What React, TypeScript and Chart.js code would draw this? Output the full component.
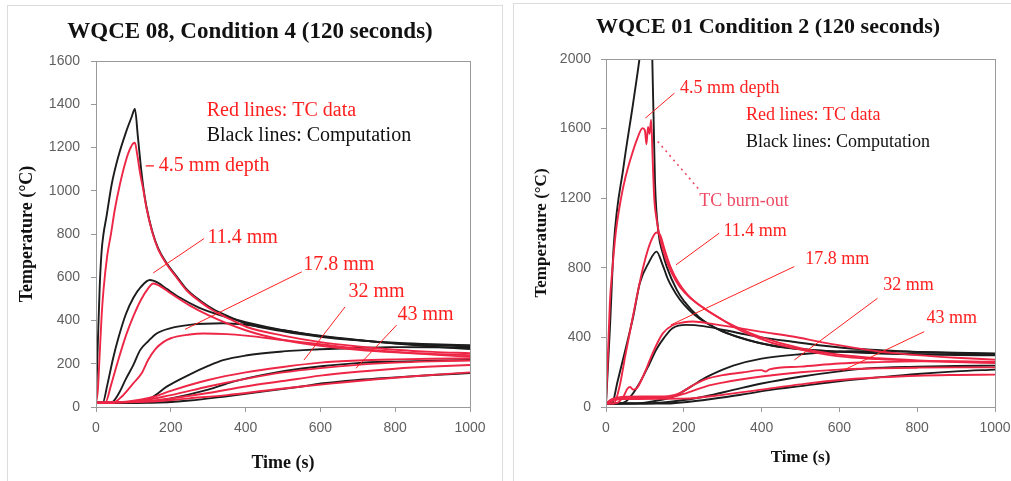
import React, { useEffect, useRef } from "react";
import { Chart, registerables } from "chart.js";

Chart.register(...registerables);

// ================= Left panel: WQCE 08, Condition 4 =================
const L_R45_T = [0, 5, 10, 15, 20, 30, 40, 50, 64, 80, 90, 100, 104, 110, 118, 127, 135, 150, 166, 189, 215, 242, 280, 314, 360, 403, 500, 600, 700, 800, 900, 1000];
const L_R45_V = [20, 80, 250, 420, 540, 700, 800, 910, 1030, 1140, 1190, 1220, 1222, 1170, 1080, 1000, 920, 810, 730, 660, 600, 540, 485, 445, 405, 370, 330, 300, 280, 265, 255, 249];
const L_B45_T = [0, 5, 10, 15, 20, 28, 42, 60, 80, 95, 104, 112, 120, 127, 135, 150, 166, 189, 215, 242, 280, 314, 360, 403, 500, 600, 700, 800, 900, 1000];
const L_B45_V = [20, 300, 560, 720, 800, 880, 1030, 1160, 1270, 1340, 1378, 1250, 1110, 1010, 925, 815, 735, 665, 605, 545, 490, 452, 415, 385, 350, 325, 308, 297, 290, 286];
const L_R114_T = [0, 25, 40, 60, 80, 100, 120, 140, 153, 170, 200, 250, 300, 400, 500, 600, 700, 800, 900, 1000];
const L_R114_V = [20, 20, 100, 220, 330, 420, 495, 550, 571, 560, 525, 470, 425, 355, 310, 283, 265, 253, 245, 240];
const L_B114_T = [0, 18, 30, 45, 60, 80, 100, 120, 144, 165, 190, 225, 275, 350, 400, 500, 600, 700, 800, 900, 1000];
const L_B114_V = [20, 20, 100, 220, 320, 430, 505, 555, 587, 575, 545, 505, 460, 415, 392, 355, 328, 309, 295, 286, 280];
const L_R178_T = [0, 45, 70, 100, 122, 140, 160, 180, 200, 250, 287, 350, 400, 500, 600, 700, 800, 900, 1000];
const L_R178_V = [20, 20, 50, 110, 156, 220, 270, 300, 318, 335, 340, 337, 330, 310, 290, 270, 255, 242, 232];
const L_B178_T = [0, 40, 60, 80, 100, 118, 140, 162, 200, 250, 340, 400, 500, 600, 700, 800, 900, 1000];
const L_B178_V = [20, 20, 60, 130, 195, 263, 305, 340, 365, 380, 387, 380, 355, 330, 310, 293, 279, 268];
const L_R32_T = [0, 80, 150, 200, 300, 400, 500, 600, 700, 800, 900, 1000];
const L_R32_V = [20, 25, 45, 75, 125, 160, 185, 205, 215, 220, 223, 225];
const L_R32B_T = [0, 100, 200, 300, 400, 500, 600, 700, 800, 900, 1000];
const L_R32B_V = [20, 25, 55, 95, 130, 160, 180, 195, 205, 211, 215];
const L_B32_T = [0, 100, 150, 189, 250, 300, 340, 400, 500, 554, 600, 700, 786, 900, 1000];
const L_B32_V = [20, 20, 45, 94, 150, 190, 217, 238, 257, 263, 267, 273, 277, 276, 274];
const L_R43A_T = [0, 120, 200, 300, 400, 500, 600, 700, 800, 900, 1000];
const L_R43A_V = [20, 25, 40, 65, 95, 120, 145, 163, 177, 187, 194];
const L_B43A_T = [0, 118, 200, 300, 367, 450, 550, 697, 800, 900, 1000];
const L_B43A_V = [20, 20, 40, 80, 117, 150, 178, 203, 210, 214, 217];
const L_R43B_T = [0, 150, 250, 350, 450, 550, 650, 750, 850, 1000];
const L_R43B_V = [20, 25, 40, 55, 75, 95, 112, 128, 142, 160];
const L_B43B_T = [0, 150, 250, 350, 450, 550, 608, 700, 800, 900, 1000];
const L_B43B_V = [20, 20, 30, 50, 72, 95, 110, 125, 137, 148, 157];

// ================= Right panel: WQCE 01 Condition 2 =================
const R_R45_T = [0, 5, 10, 17, 25, 38, 50, 65, 80, 94, 100, 104, 108, 112, 116, 120, 124, 130, 140, 154, 170, 188, 220, 257, 300, 342, 400, 428, 500, 600, 700, 800, 900, 1000];
const R_R45_V = [20, 300, 600, 808, 1000, 1192, 1320, 1440, 1540, 1603, 1590, 1510, 1610, 1570, 1651, 1420, 1200, 1080, 960, 850, 765, 695, 620, 560, 500, 444, 390, 368, 330, 291, 275, 265, 258, 253];
const R_B45_T = [0, 10, 20, 45, 70, 86, 100, 110, 116, 119, 122, 126, 135, 145, 156, 182, 200, 240, 290, 342, 428, 514, 600, 700, 800, 900, 1000];
const R_B45_V = [20, 450, 930, 1380, 1750, 2000, 2250, 2450, 2550, 2000, 1700, 1290, 1000, 890, 807, 673, 610, 515, 445, 400, 352, 330, 318, 308, 302, 299, 297];
const R_R114_T = [0, 20, 35, 50, 70, 96, 115, 130, 140, 150, 165, 185, 210, 250, 300, 350, 400, 500, 600, 700, 800, 900, 1000];
const R_R114_V = [20, 20, 120, 300, 530, 807, 950, 1003, 985, 910, 810, 720, 645, 570, 500, 445, 400, 338, 300, 280, 268, 262, 258];
const R_B114_T = [0, 15, 30, 50, 70, 87, 110, 130, 145, 160, 180, 200, 225, 260, 300, 350, 400, 500, 600, 700, 800, 900, 1000];
const R_B114_V = [20, 20, 150, 330, 520, 712, 830, 893, 820, 730, 650, 590, 535, 480, 435, 395, 365, 333, 318, 309, 304, 301, 300];
const R_R178_T = [0, 26, 45, 55, 62, 70, 80, 100, 120, 146, 171, 200, 223, 280, 343, 400, 480, 560, 700, 800, 900, 1000];
const R_R178_V = [20, 22, 60, 105, 115, 100, 110, 200, 310, 423, 470, 487, 491, 475, 453, 432, 405, 370, 320, 298, 283, 272];
const R_B178_T = [0, 35, 51, 70, 86, 110, 129, 150, 171, 206, 250, 343, 400, 480, 560, 650, 800, 900, 1000];
const R_B178_V = [20, 20, 31, 80, 136, 240, 329, 400, 453, 472, 465, 424, 400, 375, 352, 333, 316, 310, 305];
const R_R32_T = [0, 15, 40, 100, 160, 190, 220, 257, 300, 350, 400, 410, 420, 500, 599, 700, 800, 900, 1000];
const R_R32_V = [20, 45, 58, 60, 62, 80, 120, 160, 183, 198, 212, 204, 216, 232, 250, 258, 262, 262, 260];
const R_B32_T = [0, 60, 100, 140, 173, 220, 257, 300, 327, 400, 500, 627, 700, 800, 900, 1000];
const R_B32_V = [20, 20, 25, 40, 59, 120, 170, 215, 238, 278, 303, 320, 321, 317, 312, 308];
const R_R43A_T = [0, 15, 40, 100, 160, 200, 257, 300, 400, 500, 599, 700, 800, 900, 1000];
const R_R43A_V = [20, 40, 52, 53, 55, 75, 119, 140, 175, 200, 215, 222, 226, 228, 228];
const R_B43A_T = [0, 100, 200, 257, 327, 400, 499, 599, 670, 800, 900, 1000];
const R_B43A_V = [20, 20, 40, 62, 98, 135, 174, 205, 222, 232, 236, 238];
const R_R43B_T = [0, 15, 40, 200, 300, 400, 500, 599, 700, 800, 900, 1000];
const R_R43B_V = [20, 35, 45, 48, 70, 100, 130, 155, 170, 180, 184, 186];
const R_B43B_T = [0, 150, 257, 350, 428, 500, 599, 700, 800, 900, 1000];
const R_B43B_V = [20, 20, 42, 72, 100, 120, 148, 170, 190, 205, 215];

const X_TICK_STEP = 200;
const LEFT_Y_MAX = 1600;
const LEFT_Y_STEP = 200;
const RIGHT_Y_MAX = 2000;
const RIGHT_Y_STEP = 400;

const RED = "#ee2646";
const BLACK = "#1c1c1c";
const RED_TEXT = "#ff2020";
const PINK_TEXT = "#f04a64";
const SERIF = "'Liberation Serif', 'Times New Roman', serif";
const SANS = "'Liberation Sans', Arial, sans-serif";

type Series = { label: string; t: number[]; v: number[]; color: string };

const leftSeries: Series[] = [
  { label: "TC 4.5 mm", t: L_R45_T, v: L_R45_V, color: RED },
  { label: "TC 11.4 mm", t: L_R114_T, v: L_R114_V, color: RED },
  { label: "TC 17.8 mm", t: L_R178_T, v: L_R178_V, color: RED },
  { label: "TC 32 mm", t: L_R32_T, v: L_R32_V, color: RED },
  { label: "TC 32 mm (b)", t: L_R32B_T, v: L_R32B_V, color: RED },
  { label: "TC 43 mm", t: L_R43A_T, v: L_R43A_V, color: RED },
  { label: "TC 43 mm (b)", t: L_R43B_T, v: L_R43B_V, color: RED },
  { label: "Comp 4.5 mm", t: L_B45_T, v: L_B45_V, color: BLACK },
  { label: "Comp 11.4 mm", t: L_B114_T, v: L_B114_V, color: BLACK },
  { label: "Comp 17.8 mm", t: L_B178_T, v: L_B178_V, color: BLACK },
  { label: "Comp 32 mm", t: L_B32_T, v: L_B32_V, color: BLACK },
  { label: "Comp 43 mm", t: L_B43A_T, v: L_B43A_V, color: BLACK },
  { label: "Comp 43 mm (b)", t: L_B43B_T, v: L_B43B_V, color: BLACK },
];

const rightSeries: Series[] = [
  { label: "TC 4.5 mm", t: R_R45_T, v: R_R45_V, color: RED },
  { label: "TC 11.4 mm", t: R_R114_T, v: R_R114_V, color: RED },
  { label: "TC 17.8 mm", t: R_R178_T, v: R_R178_V, color: RED },
  { label: "TC 32 mm", t: R_R32_T, v: R_R32_V, color: RED },
  { label: "TC 43 mm", t: R_R43A_T, v: R_R43A_V, color: RED },
  { label: "TC 43 mm (b)", t: R_R43B_T, v: R_R43B_V, color: RED },
  { label: "Comp 4.5 mm", t: R_B45_T, v: R_B45_V, color: BLACK },
  { label: "Comp 11.4 mm", t: R_B114_T, v: R_B114_V, color: BLACK },
  { label: "Comp 17.8 mm", t: R_B178_T, v: R_B178_V, color: BLACK },
  { label: "Comp 32 mm", t: R_B32_T, v: R_B32_V, color: BLACK },
  { label: "Comp 43 mm", t: R_B43A_T, v: R_B43A_V, color: BLACK },
  { label: "Comp 43 mm (b)", t: R_B43B_T, v: R_B43B_V, color: BLACK },
];

type Note = { x: number; y: number; text: string; color: string };
type Leader = { x1: number; y1: number; x2: number; y2: number; color: string; dash?: number[]; width?: number };

const leftNotes: Note[] = [
  { x: 296, y: 1372, text: "Red lines: TC data", color: RED_TEXT },
  { x: 296, y: 1256, text: "Black lines: Computation", color: "#111" },
  { x: 168, y: 1115, text: "4.5 mm depth", color: RED_TEXT },
  { x: 298, y: 784, text: "11.4 mm", color: RED_TEXT },
  { x: 554, y: 656, text: "17.8 mm", color: RED_TEXT },
  { x: 675, y: 533, text: "32 mm", color: RED_TEXT },
  { x: 806, y: 425, text: "43 mm", color: RED_TEXT },
];
const leftLeaders: Leader[] = [
  { x1: 133, y1: 1115, x2: 155, y2: 1115, color: RED_TEXT, width: 1.3 },
  { x1: 289, y1: 779, x2: 153, y2: 620, color: RED_TEXT },
  { x1: 550, y1: 625, x2: 238, y2: 359, color: RED_TEXT },
  { x1: 666, y1: 463, x2: 556, y2: 217, color: RED_TEXT },
  { x1: 804, y1: 379, x2: 695, y2: 179, color: RED_TEXT },
];

const rightNotes: Note[] = [
  { x: 190, y: 1833, text: "4.5 mm depth", color: RED_TEXT },
  { x: 360, y: 1674, text: "Red lines: TC data", color: RED_TEXT },
  { x: 360, y: 1520, text: "Black lines: Computation", color: "#111" },
  { x: 240, y: 1181, text: "TC burn-out", color: PINK_TEXT },
  { x: 302, y: 1012, text: "11.4 mm", color: RED_TEXT },
  { x: 512, y: 849, text: "17.8 mm", color: RED_TEXT },
  { x: 713, y: 702, text: "32 mm", color: RED_TEXT },
  { x: 824, y: 510, text: "43 mm", color: RED_TEXT },
];
const rightLeaders: Leader[] = [
  { x1: 176, y1: 1804, x2: 101, y2: 1660, color: RED_TEXT },
  { x1: 133, y1: 1526, x2: 240, y2: 1248, color: PINK_TEXT, dash: [2, 4], width: 1.6 },
  { x1: 291, y1: 999, x2: 180, y2: 817, color: RED_TEXT },
  { x1: 484, y1: 807, x2: 167, y2: 472, color: RED_TEXT },
  { x1: 698, y1: 625, x2: 484, y2: 270, color: RED_TEXT },
  { x1: 818, y1: 433, x2: 608, y2: 209, color: RED_TEXT },
];

type PanelCfg = {
  title: string;
  titleFont: string;
  titleX: number;
  titleY: number;
  noteFont: string;
  series: Series[];
  notes: Note[];
  leaders: Leader[];
  yMax: number;
  yStep: number;
  width: number;
  height: number;
  plotLeft: number;
  plotRight: number;
  plotTop: number;
  plotBottom: number;
  yTitleSize: number;
  yTitlePad: number;
  xTitleSize: number;
  xTitlePad: number;
  yTickPad: number;
};

const plainTick = (v: any) => String(v);

function Panel({ cfg }: { cfg: PanelCfg }) {
  const ref = useRef<HTMLCanvasElement | null>(null);
  useEffect(() => {
    if (!ref.current) return;
    const overlay = {
      id: "overlay",
      afterDraw(chart: any) {
        const { ctx, chartArea: a, scales } = chart;
        const xs = scales.x;
        const ys = scales.y;
        ctx.save();
        // plot frame
        ctx.strokeStyle = "#9a9a9a";
        ctx.lineWidth = 1;
        ctx.setLineDash([]);
        ctx.strokeRect(Math.round(a.left) + 0.5, Math.round(a.top) + 0.5, Math.round(a.right - a.left), Math.round(a.bottom - a.top));
        // title
        ctx.fillStyle = "#111";
        ctx.font = cfg.titleFont;
        ctx.textAlign = "center";
        ctx.textBaseline = "middle";
        ctx.fillText(cfg.title, cfg.titleX, cfg.titleY);
        // leader lines
        for (const l of cfg.leaders) {
          ctx.beginPath();
          ctx.setLineDash(l.dash || []);
          ctx.strokeStyle = l.color;
          ctx.lineWidth = l.width || 1;
          ctx.moveTo(xs.getPixelForValue(l.x1), ys.getPixelForValue(l.y1));
          ctx.lineTo(xs.getPixelForValue(l.x2), ys.getPixelForValue(l.y2));
          ctx.stroke();
        }
        ctx.setLineDash([]);
        // annotation texts
        ctx.font = cfg.noteFont;
        ctx.textAlign = "left";
        ctx.textBaseline = "middle";
        for (const n of cfg.notes) {
          ctx.fillStyle = n.color;
          ctx.fillText(n.text, xs.getPixelForValue(n.x), ys.getPixelForValue(n.y));
        }
        ctx.restore();
      },
    };

    const datasets = cfg.series.map((s) => ({
      label: s.label,
      data: s.t.map((t, i) => ({ x: t, y: s.v[i] })),
      borderColor: s.color,
      backgroundColor: s.color,
      borderWidth: 1.9,
      pointRadius: 0,
      fill: false,
      cubicInterpolationMode: "monotone" as const,
    }));

    const chart = new Chart(ref.current, {
      type: "line",
      data: { datasets },
      options: {
        animation: false,
        responsive: false,
        maintainAspectRatio: false,
        layout: {
          padding: {
            left: 0,
            top: cfg.plotTop,
            right: cfg.width - cfg.plotRight,
            bottom: 0,
          },
        },
        plugins: {
          legend: { display: false },
          tooltip: { enabled: false },
          title: { display: false },
        },
        scales: {
          x: {
            type: "linear",
            min: 0,
            max: 1000,
            afterFit: (scale: any) => {
              scale.height = cfg.height - cfg.plotBottom;
            },
            border: { display: false },
            grid: { drawOnChartArea: false, drawTicks: true, tickLength: 5, color: "#9a9a9a" },
            ticks: {
              stepSize: X_TICK_STEP,
              padding: 8,
              color: "#5f5f5f",
              font: { family: SANS, size: 14 },
              maxRotation: 0,
              callback: plainTick,
            },
            title: {
              display: true,
              text: "Time (s)",
              color: "#111",
              font: { family: SERIF, size: cfg.xTitleSize, weight: "bold" },
              padding: { top: 0, bottom: cfg.xTitlePad },
            },
          },
          y: {
            type: "linear",
            min: 0,
            max: cfg.yMax,
            afterFit: (scale: any) => {
              scale.width = cfg.plotLeft;
            },
            border: { display: false },
            grid: { drawOnChartArea: false, drawTicks: true, tickLength: 5, color: "#9a9a9a" },
            ticks: {
              stepSize: cfg.yStep,
              padding: cfg.yTickPad,
              color: "#5f5f5f",
              font: { family: SANS, size: 14 },
              callback: plainTick,
            },
            title: {
              display: true,
              text: "Temperature (°C)",
              color: "#111",
              font: { family: SERIF, size: cfg.yTitleSize, weight: "bold" },
              padding: { top: cfg.yTitlePad, bottom: 0 },
            },
          },
        },
      },
      plugins: [overlay],
    });
    return () => chart.destroy();
  }, [cfg]);
  return (
    <canvas
      ref={ref}
      width={cfg.width}
      height={cfg.height}
      style={{ width: cfg.width, height: cfg.height, display: "block" }}
    />
  );
}

const leftCfg: PanelCfg = {
  title: "WQCE 08, Condition 4 (120 seconds)",
  titleFont: `bold 23px ${SERIF}`,
  titleX: 250,
  titleY: 32,
  noteFont: `20px ${SERIF}`,
  series: leftSeries,
  notes: leftNotes,
  leaders: leftLeaders,
  yMax: LEFT_Y_MAX,
  yStep: LEFT_Y_STEP,
  width: 505,
  height: 481,
  plotLeft: 96,
  plotRight: 470,
  plotTop: 61,
  plotBottom: 407,
  yTitleSize: 18,
  yTitlePad: 17,
  xTitleSize: 18,
  xTitlePad: 7,
  yTickPad: 11,
};

const rightCfg: PanelCfg = {
  title: "WQCE 01 Condition 2 (120 seconds)",
  titleFont: `bold 22px ${SERIF}`,
  titleX: 262,
  titleY: 27,
  noteFont: `18px ${SERIF}`,
  series: rightSeries,
  notes: rightNotes,
  leaders: rightLeaders,
  yMax: RIGHT_Y_MAX,
  yStep: RIGHT_Y_STEP,
  width: 525,
  height: 481,
  plotLeft: 100,
  plotRight: 489,
  plotTop: 59,
  plotBottom: 407,
  yTitleSize: 17,
  yTitlePad: 25,
  xTitleSize: 17,
  xTitlePad: 13,
  yTickPad: 10,
};

export default function App() {
  return (
    <div
      style={{
        position: "fixed",
        left: 0,
        top: 0,
        width: 1011,
        height: 481,
        overflow: "hidden",
        background: "#fff",
      }}
    >
      <div style={{ position: "absolute", left: 7, top: 5, width: 494, height: 490, border: "1px solid #dcdcdc" }} />
      <div style={{ position: "absolute", left: 513, top: 3, width: 520, height: 490, border: "1px solid #dcdcdc" }} />
      <div style={{ position: "absolute", left: 0, top: 0 }}>
        <Panel cfg={leftCfg} />
      </div>
      <div style={{ position: "absolute", left: 506, top: 0 }}>
        <Panel cfg={rightCfg} />
      </div>
    </div>
  );
}
